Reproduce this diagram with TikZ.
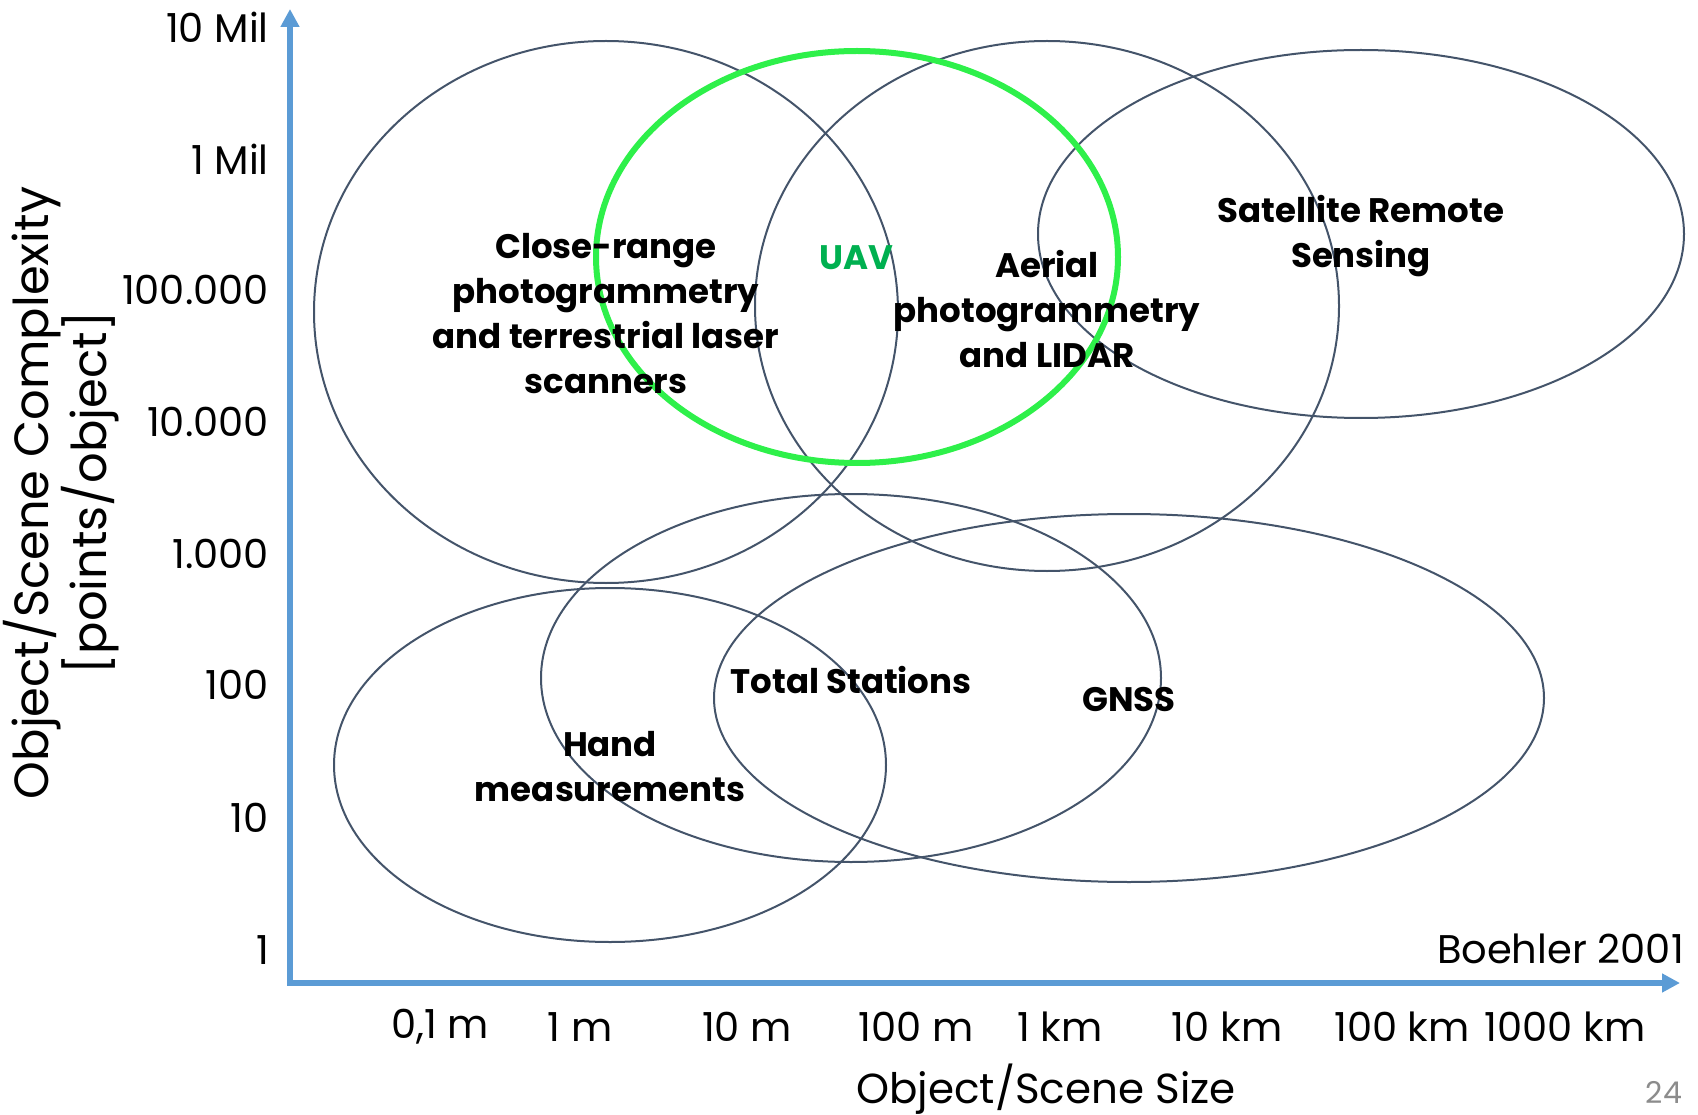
\documentclass[tikz,border=0pt]{standalone}
\usepackage{fontspec}
\setmainfont{Poppins}
\usetikzlibrary{arrows.meta}
\definecolor{ell}{HTML}{44546A}
\definecolor{axiscol}{HTML}{5B9BD5}
\definecolor{uavring}{HTML}{2EF04A}
\definecolor{uavtext}{HTML}{00B050}
\definecolor{pagenum}{HTML}{8C8C8C}
\begin{document}
\begin{tikzpicture}[x=1pt,y=-1pt,
  ring/.style={draw=ell,line width=2pt},
  uavstyle/.style={draw=uavring,line width=6pt},
  axisline/.style={draw=axiscol,line width=6pt,line join=miter,
     {Triangle[length=18pt,width=18pt]}-{Triangle[length=18pt,width=18pt]}},
  ticklbl/.style={font=\fontsize{40}{48}\selectfont,inner sep=0pt},
  ytick/.style={ticklbl,anchor=east},
  lbl/.style={font=\bfseries\fontsize{34}{45}\selectfont,align=center,inner sep=0pt},
]
\useasboundingbox (0,0) rectangle (1698,1115);
% axes
\coordinate (ytip) at (290,9);
\coordinate (origin) at (290,983);
\coordinate (xtip) at (1680,983);
\draw[axisline] (ytip) -- (origin) -- (xtip);
% ellipses
\draw[ring] (606,312) ellipse [x radius=292, y radius=271];
\draw[ring] (1047,306) ellipse [x radius=292, y radius=265];
\draw[ring] (1361,234) ellipse [x radius=323, y radius=184];
\draw[ring] (851,678) ellipse [x radius=310, y radius=184];
\draw[ring] (1129,698) ellipse [x radius=415, y radius=184];
\draw[ring] (610,765) ellipse [x radius=276, y radius=177];
\draw[uavstyle] (857,257) ellipse [x radius=261, y radius=206];
% y ticks
\node[ytick] (y7) at (269,27) {10 Mil};
\node[ytick] (y6) at (269,159) {1 Mil};
\node[ytick] (y5) at (269,290) {100.000};
\node[ytick] (y4) at (269,422) {10.000};
\node[ytick] (y3) at (269,554) {1.000};
\node[ytick] (y2) at (269,685) {100};
\node[ytick] (y1) at (269,818) {10};
\node[ytick] (y0) at (269,950) {1};
% x ticks
\node[ticklbl] (x1) at (440,1027) {0,1 m};
\node[ticklbl] (x2) at (580,1027) {1 m};
\node[ticklbl] (x3) at (747,1027) {10 m};
\node[ticklbl] (x4) at (916,1027) {100 m};
\node[ticklbl] (x5) at (1060,1027) {1 km};
\node[ticklbl] (x6) at (1227,1027) {10 km};
\node[ticklbl] (x7) at (1402,1027) {100 km};
\node[ticklbl] (x8) at (1565,1027) {1000 km};
% axis titles
\node[font=\fontsize{42}{50}\selectfont,inner sep=0pt] (xtitle) at (1046,1089) {Object/Scene Size};
\node[font=\fontsize{48}{52}\selectfont,align=center,inner sep=0pt,rotate=90] (ytitle) at (61,493) {Object/Scene Complexity\\{[points/object]}};
\node[ticklbl,anchor=east] (src) at (1684,949) {Boehler 2001};
\node[font=\fontsize{30}{36}\selectfont,text=pagenum,inner sep=0pt] (pg) at (1664,1092) {24};
% labels
\node[lbl] (close) at (606,314) {Close-range\\photogrammetry\\and terrestrial laser\\scanners};
\node[lbl,text=uavtext] (uav) at (856,258) {UAV};
\node[lbl] (aerial) at (1047,309) {Aerial\\photogrammetry\\and LIDAR};
\node[lbl] (sat) at (1361,236) {Satellite Remote\\Sensing};
\node[lbl] (total) at (851,680) {Total Stations};
\node[lbl] (gnss) at (1129,700) {GNSS};
\node[lbl] (hand) at (610,767) {Hand\\measurements};
\end{tikzpicture}
\end{document}
